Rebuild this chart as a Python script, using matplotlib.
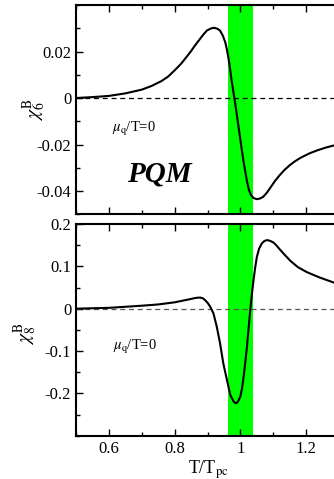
import matplotlib
matplotlib.use("Agg")
import matplotlib.pyplot as plt
from matplotlib.ticker import MultipleLocator, FuncFormatter, FixedLocator

# ---- data ----
T6 = [0.50, 0.55, 0.60, 0.65, 0.70, 0.73, 0.76, 0.78, 0.80, 0.82, 0.847, 0.862,
      0.877, 0.888, 0.898, 0.910, 0.920, 0.930, 0.938, 0.946, 0.954, 0.959,
      0.964, 0.969, 0.974, 0.982, 0.990, 1.000, 1.009, 1.020, 1.026, 1.032,
      1.040, 1.050, 1.060, 1.070, 1.080, 1.090, 1.105, 1.120, 1.135, 1.150,
      1.165, 1.183, 1.210, 1.234, 1.260, 1.290]
chi6 = [0.0000, 0.0004, 0.0009, 0.0020, 0.0036, 0.0052, 0.0073, 0.0092, 0.0119,
        0.0148, 0.0196, 0.0226, 0.0254, 0.0274, 0.0290, 0.0299, 0.0302, 0.0298,
        0.0290, 0.0270, 0.0240, 0.0208, 0.0169, 0.0120, 0.0069, -0.0003,
        -0.0080, -0.0180, -0.0268, -0.0358, -0.0395, -0.0417, -0.0430, -0.0435,
        -0.0432, -0.0424, -0.0408, -0.0388, -0.0357, -0.0331, -0.0308, -0.0289,
        -0.0273, -0.0257, -0.0238, -0.0225, -0.0213, -0.0202]

T8 = [0.50, 0.60, 0.70, 0.75, 0.80, 0.825, 0.847, 0.860, 0.870, 0.878, 0.886,
      0.893, 0.901, 0.908, 0.918, 0.928, 0.938, 0.948, 0.959, 0.969, 0.979,
      0.985, 0.990, 0.995, 1.000, 1.005, 1.010, 1.015, 1.020, 1.025, 1.030,
      1.035, 1.040, 1.045, 1.050, 1.057, 1.065, 1.073, 1.082, 1.091, 1.101,
      1.110, 1.121, 1.135, 1.152, 1.175, 1.203, 1.240, 1.290]
chi8 = [0.000, 0.002, 0.007, 0.010, 0.015, 0.019, 0.0225, 0.0248, 0.0260,
        0.0262, 0.0245, 0.020, 0.013, 0.005, -0.011, -0.042, -0.081, -0.129,
        -0.168, -0.203, -0.219, -0.223, -0.222, -0.216, -0.207, -0.188, -0.160,
        -0.126, -0.089, -0.046, -0.003, 0.034, 0.068, 0.097, 0.122, 0.142,
        0.154, 0.160, 0.162, 0.160, 0.156, 0.149, 0.139, 0.127, 0.113, 0.098,
        0.086, 0.074, 0.060]

band = (0.961, 1.037)
xticks = [0.6, 0.8, 1.0, 1.2]
xticklabels = ["0.6", "0.8", "1", "1.2"]
yticks6 = [-0.04, -0.02, 0.0, 0.02]
yticks8 = [-0.2, -0.1, 0.0, 0.1, 0.2]

plt.rcParams['font.family'] = ['Liberation Serif', 'DejaVu Serif']
plt.rcParams['mathtext.fontset'] = 'stix'

fig = plt.figure(figsize=(3.34, 4.79), dpi=100)
W, H = 334.0, 479.0
ax1 = fig.add_axes([76 / W, 1 - 214.3 / H, 265.0 / W, 209.3 / H])
ax2 = fig.add_axes([76 / W, 1 - 435.7 / H, 265.0 / W, 211.7 / H])


def fmt(v, pos):
    if abs(v) < 1e-12:
        return "0"
    return "%g" % v


for ax in (ax1, ax2):
    ax.axvspan(band[0], band[1], color='#00ff00', lw=0, zorder=1)
    ax.axhline(0, color='black' if ax is ax1 else '#555555', lw=0.9,
               ls=(0, (4, 3)), zorder=2)
    ax.set_xlim(0.5, 1.306)
    ax.xaxis.set_major_locator(FixedLocator(xticks))
    ax.xaxis.set_minor_locator(MultipleLocator(0.1))
    ax.tick_params(which='both', direction='in', top=True, right=True,
                   labelsize=12, width=1.0)
    ax.tick_params(which='major', length=5)
    ax.tick_params(which='minor', length=3)
    for sp in ax.spines.values():
        sp.set_linewidth(1.5)

ax1.plot(T6, chi6, color='black', lw=1.5, zorder=3)
ax2.plot(T8, chi8, color='black', lw=1.5, zorder=3)

ax1.set_ylim(-0.05, 0.04)
ax1.yaxis.set_major_locator(FixedLocator(yticks6))
ax1.yaxis.set_minor_locator(MultipleLocator(0.01))
ax1.yaxis.set_major_formatter(FuncFormatter(fmt))
ax1.set_xticklabels([])

ax2.set_ylim(-0.3, 0.2)
ax2.yaxis.set_major_locator(FixedLocator(yticks8))
ax2.yaxis.set_minor_locator(MultipleLocator(0.05))
ax2.yaxis.set_major_formatter(FuncFormatter(fmt))
ax2.set_xticklabels(xticklabels)

ax1.set_ylabel(r'$\chi_6^{\rm B}$', fontsize=14)
ax1.yaxis.set_label_coords(-0.105, 0.5)
ax2.set_ylabel(r'$\chi_8^{\rm B}$', fontsize=14)
ax2.yaxis.set_label_coords(-0.14, 0.48)
ax2.set_xlabel(r'T/T$_{\rm pc}$', fontsize=13, labelpad=1)

ax1.text(0.608, -0.0146, r'$\mu_{\rm q}$/T=0', fontsize=10.5)
ax2.text(0.613, -0.097, r'$\mu_{\rm q}$/T=0', fontsize=10.5)
ax1.text(0.655, -0.0357, 'PQM', fontsize=21, fontweight='bold', style='italic',
         va='baseline', ha='left')

fig.savefig('out.png', dpi=100)
